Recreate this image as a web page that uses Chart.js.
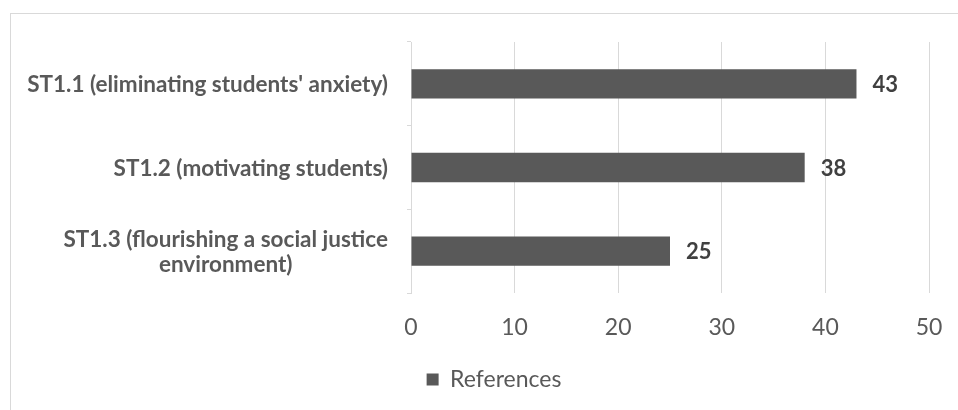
<!DOCTYPE html>
<html>
<head>
<meta charset="utf-8">
<script src="https://cdn.jsdelivr.net/npm/chart.js@4"></script>
<style>
  html, body { margin: 0; padding: 0; background: #fff; overflow: hidden; }
  #frame { position: absolute; left: 10px; top: 13px; width: 980px; height: 420px; border: 1px solid #d9d9d9; }
  #wrap { position: absolute; left: 0; top: 0; width: 958px; height: 410px; }
</style>
</head>
<body>
<div id="frame"></div>
<div id="wrap"><canvas id="refs-bar-chart"></canvas></div>
<script>
// data
const categories = [
  ["ST1.1 (eliminating students' anxiety)"],
  ["ST1.2 (motivating students)"],
  ["ST1.3 (flourishing a social justice", "environment)"]
];
const references = [43, 38, 25];
const xTicks = [0, 10, 20, 30, 40, 50];

const grey = '#595959';
const fontName = 'Lato, "Liberation Sans", sans-serif';

// category labels: block right aligned, lines centred inside the block
const catLabels = {
  id: 'catLabels',
  afterDraw(chart) {
    const ctx = chart.ctx;
    const y = chart.scales.y;
    const right = y.right - 23;
    ctx.save();
    ctx.font = 'bold 22.5px ' + fontName;
    ctx.fillStyle = grey;
    ctx.textBaseline = 'middle';
    ctx.textAlign = 'center';
    chart.data.labels.forEach((lines, i) => {
      const mid = y.getPixelForTick(i);
      const w = Math.max(...lines.map(l => ctx.measureText(l).width));
      const cx = right - w / 2;
      const lh = 25;
      const top = mid + 1 - (lines.length - 1) * lh / 2;
      lines.forEach((l, j) => ctx.fillText(l, cx, top + j * lh));
    });
    ctx.restore();
  }
};

// value labels at the bar ends
const barValues = {
  id: 'barValues',
  afterDatasetsDraw(chart) {
    const ctx = chart.ctx;
    ctx.save();
    ctx.font = 'bold 22px ' + fontName;
    ctx.fillStyle = '#404040';
    ctx.textBaseline = 'middle';
    ctx.textAlign = 'left';
    chart.getDatasetMeta(0).data.forEach((bar, i) => {
      ctx.fillText(chart.data.datasets[0].data[i], bar.x + 16, bar.y + 1);
    });
    ctx.restore();
  }
};

new Chart(document.getElementById("refs-bar-chart"), {
  type: 'bar',
  data: {
    labels: categories,
    datasets: [{
      label: "References",
      backgroundColor: grey,
      data: references,
      barPercentage: 0.35,
      categoryPercentage: 1
    }]
  },
  plugins: [catLabels, barValues],
  options: {
    indexAxis: 'y',
    responsive: true,
    maintainAspectRatio: false,
    animation: false,
    layout: { padding: { left: 59, right: 29, top: 42, bottom: 9 } },
    scales: {
      x: {
        min: 0,
        max: 50,
        afterBuildTicks(scale) { scale.ticks = xTicks.map(v => ({ value: v })); },
        afterFit(scale) {
          scale.height = 65;
          scale.paddingLeft = 0;
          scale.paddingRight = 0;
        },
        grid: { color: '#d9d9d9', drawTicks: false },
        border: { display: false },
        ticks: { color: grey, font: { family: fontName, size: 23 }, padding: 21 }
      },
      y: {
        afterFit(scale) { scale.width = 352; },
        grid: { offset: true, drawOnChartArea: false, tickLength: 4, color: '#d9d9d9' },
        border: { display: true, color: '#d9d9d9' },
        ticks: { display: false }
      }
    },
    plugins: {
      legend: {
        position: 'bottom',
        labels: {
          boxWidth: 12,
          boxHeight: 12,
          padding: 10,
          color: grey,
          font: { family: fontName, size: 23 }
        }
      },
      tooltip: { enabled: false }
    }
  }
});
</script>
</body>
</html>
